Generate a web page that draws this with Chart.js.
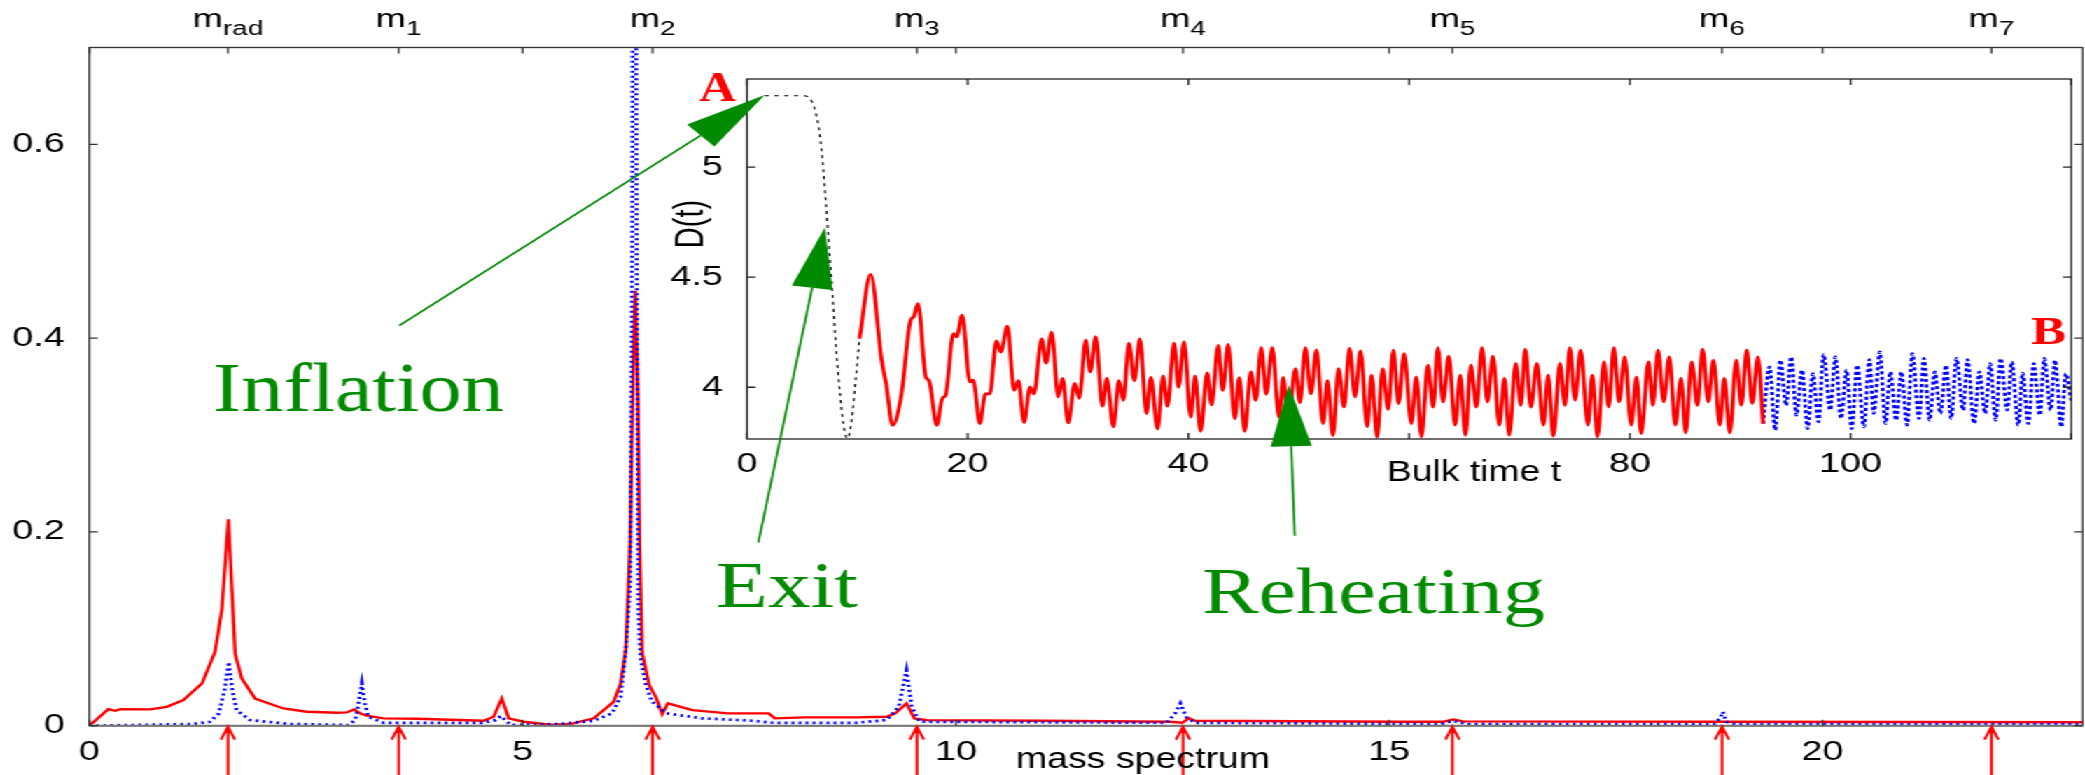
<!DOCTYPE html>
<html>
<head>
<meta charset="utf-8">
<script src="https://cdn.jsdelivr.net/npm/chart.js@4.4.1/dist/chart.umd.min.js"></script>
<style>
  html, body { margin: 0; padding: 0; background: #ffffff; overflow: hidden; }
  /* la figura original esta estirada a lo ancho, la estiramos igual */
  #lienzo { position: relative; width: 1489px; height: 775px; transform: scaleX(1.40027); transform-origin: 0 0; }
  #lienzo canvas { position: absolute; left: 0; top: 0; }
</style>
</head>
<body>
<div id="lienzo">
  <canvas id="principal" width="1489" height="775"></canvas>
  <canvas id="recuadro" width="1489" height="775"></canvas>
</div>
<script>
// ---- datos del espectro de masas (grafica grande) ----
const rojoMasa = [0, 0.22, 0.30, 0.36, 0.70, 0.894, 1.086, 1.30, 1.45, 1.53,
  1.605, 1.683, 1.76, 1.913, 2.24, 2.51, 2.857, 2.97, 3.057, 3.126,
  3.203, 3.395, 3.78, 4.55, 4.665, 4.76, 4.84, 5.01, 5.32, 5.55,
  5.82, 6.05, 6.13, 6.19, 6.24, 6.28, 6.30, 6.33, 6.35, 6.38,
  6.46, 6.54, 6.61, 6.675, 6.96, 7.37, 7.84, 7.91, 8.25, 8.84,
  9.20, 9.30, 9.43, 9.52, 9.67, 11.02, 12.47, 12.61, 12.69, 12.76,
  15.13, 15.62, 15.74, 15.85, 18.84, 23];
const rojoValor = [0, 0.017, 0.0154, 0.017, 0.0168, 0.0195, 0.0264, 0.0435, 0.076, 0.120,
  0.213, 0.074, 0.0486, 0.028, 0.0178, 0.0144, 0.0133, 0.0137, 0.0168, 0.0127,
  0.0103, 0.0076, 0.0072, 0.0051, 0.0092, 0.028, 0.0076, 0.0041, 0.001, 0.0017,
  0.0076, 0.0246, 0.0435, 0.078, 0.187, 0.389, 0.449, 0.339, 0.187, 0.075,
  0.042, 0.029, 0.012, 0.023, 0.016, 0.0127, 0.0127, 0.0076, 0.0086, 0.0086,
  0.0092, 0.0127, 0.023, 0.0076, 0.0058, 0.0051, 0.0041, 0.003, 0.0076, 0.0051,
  0.0041, 0.004, 0.0065, 0.0045, 0.004, 0.0035];

const azulMasa = [0, 1.186, 1.39, 1.495, 1.56, 1.61, 1.65, 1.70, 1.855, 2.32,
  2.99, 3.07, 3.12, 3.145, 3.18, 3.22, 3.40, 4.535, 4.69, 4.75,
  4.82, 4.87, 5.41, 5.82, 6.03, 6.13, 6.19, 6.24, 6.265, 6.29,
  6.315, 6.335, 6.36, 6.42, 6.49, 6.66, 7.07, 7.66, 7.90, 8.84,
  9.20, 9.34, 9.43, 9.49, 9.58, 12.43, 12.53, 12.59, 12.66, 12.76,
  15.60, 15.74, 15.90, 18.75, 18.82, 18.85, 18.89, 19.0, 23];
const azulValor = [0, 0.0017, 0.004, 0.0127, 0.0366, 0.0657, 0.0366, 0.016, 0.0058, 0.0017,
  0.0007, 0.0058, 0.0297, 0.0435, 0.023, 0.0092, 0.0029, 0.003, 0.0058, 0.010,
  0.004, 0.0007, 0.0017, 0.0051, 0.0127, 0.0297, 0.078, 0.146, 0.5, 1.6,
  0.5, 0.12, 0.07, 0.043, 0.025, 0.0127, 0.0076, 0.0051, 0.003, 0.003,
  0.0058, 0.0195, 0.057, 0.0195, 0.0041, 0.003, 0.0127, 0.023, 0.0086, 0.003,
  0.0017, 0.005, 0.0017, 0.0017, 0.008, 0.0144, 0.004, 0.0017, 0.0017];

// posiciones de las masas marcadas arriba y con flechas abajo
const masasM = [1.6, 3.57, 6.5, 9.55, 12.62, 15.73, 18.84, 21.95];
const nombresM = ['rad', '1', '2', '3', '4', '5', '6', '7'];
const ticksMasa = [0, 5, 10, 15, 20];
const ticksValor = [0, 0.2, 0.4, 0.6];

// ---- datos de D(t) (recuadro) ----
const puntoT = [1.6, 5.05, 5.95, 6.49, 6.85, 7.15, 7.44, 7.74, 8.04, 8.43, 8.73, 9.09, 9.48, 9.84, 10.2];
const puntoD = [5.324, 5.324, 5.29, 5.183, 5.03, 4.835, 4.638, 4.426, 4.2, 3.97, 3.835, 3.767, 3.85, 4.03, 4.221];

const rojoT = [10.2, 11.2, 12.2, 12.6, 13.2, 14.0, 14.8, 15.1, 15.5, 16.2,
  16.5, 17.2, 17.7, 18.0, 18.7, 19.0, 19.5, 20.2, 20.5, 21.1,
  21.6, 22.0, 22.6, 23.0, 23.6, 24.2, 24.6, 25.1, 25.65, 26.0,
  26.7, 27.1, 27.6, 28.2, 28.6, 29.1, 29.7, 30.1, 30.7, 31.1,
  31.6, 32.2, 32.6, 33.2, 33.7, 34.1, 34.6, 35.1, 35.6, 36.2,
  36.6, 37.2, 37.7, 38.1, 38.7, 39.1, 39.6, 40.2, 40.6, 41.1,
  41.7, 42.1, 42.7, 43.1, 43.6, 44.2, 44.6, 45.1, 45.65, 46.1,
  46.6, 47.05, 47.6, 48.2, 48.6, 49.0, 49.7, 50.1, 50.6, 51.1,
  51.6, 52.2, 52.6, 53.1, 53.6, 54.1, 54.6, 55.1, 55.6, 56.2,
  56.6, 57.1, 57.6, 58.1, 58.57, 59.04, 59.55, 60.2, 60.65, 61.12,
  61.7, 62.18, 62.6, 63.08, 63.59, 64.17, 64.64, 65.1, 65.6, 66.1,
  66.6, 67.1, 67.6, 68.17, 68.64, 69.07, 69.66, 70.13, 70.52, 71.03,
  71.58, 72.17, 72.6, 73.07, 73.66, 74.13, 74.56, 75.03, 75.54, 76.2,
  76.6, 77.07, 77.65, 78.08, 78.55, 79.02, 79.53, 80.12, 80.6, 81.02,
  81.69, 82.08, 82.55, 83.06, 83.57, 84.12, 84.63, 85.06, 85.6, 86.12,
  86.59, 87.1, 87.57, 88.15, 88.55, 89.06, 89.64, 90.1, 90.6, 91.09,
  91.6, 92.07];
const rojoD = [4.221, 4.512, 4.123, 4.017, 3.827, 3.97, 4.30, 4.32, 4.38, 4.047,
  4.03, 3.827, 3.95, 3.964, 4.244, 4.229, 4.327, 4.024, 4.032, 3.835,
  3.97, 3.97, 4.21, 4.16, 4.277, 3.986, 4.03, 3.84, 4.0, 3.97,
  4.22, 4.11, 4.25, 3.956, 4.04, 3.838, 4.018, 3.95, 4.214, 4.07,
  4.23, 3.914, 4.04, 3.82, 4.03, 3.94, 4.20, 4.03, 4.22, 3.88,
  4.045, 3.81, 4.05, 3.914, 4.20, 4.0, 4.206, 3.865, 4.05, 3.80,
  4.065, 3.92, 4.19, 3.986, 4.195, 3.857, 4.044, 3.80, 4.07, 3.94,
  4.18, 3.968, 4.18, 3.865, 4.045, 3.827, 4.085, 3.93, 4.18, 3.97,
  4.17, 3.835, 4.03, 3.78, 4.085, 3.91, 4.176, 3.956, 4.165, 3.82,
  4.055, 3.774, 4.085, 3.90, 4.168, 3.926, 4.153, 3.835, 4.047, 3.775,
  4.10, 3.91, 4.18, 3.934, 4.141, 3.828, 4.055, 3.782, 4.10, 3.91,
  4.18, 3.934, 4.141, 3.828, 4.04, 3.782, 4.108, 3.918, 4.173, 3.91,
  4.108, 3.828, 4.055, 3.778, 4.108, 3.918, 4.18, 3.941, 4.168, 3.828,
  4.055, 3.775, 4.115, 3.91, 4.18, 3.934, 4.138, 3.828, 4.047, 3.79,
  4.115, 3.918, 4.168, 3.934, 4.138, 3.828, 4.04, 3.793, 4.115, 3.918,
  4.173, 3.934, 4.123, 3.828, 4.04, 3.793, 4.123, 3.918, 4.168, 3.926,
  4.138, 3.835];

const azulT = [92.07, 92.66, 93.17, 93.64, 94.15, 94.62, 95.09, 95.6, 96.11, 96.58,
  97.09, 97.56, 98.15, 98.62, 99.13, 99.64, 100.1, 100.6, 101.2, 101.7,
  102.1, 102.65, 103.16, 103.6, 104.14, 104.6, 105.12, 105.6, 106.2, 106.65,
  107.16, 107.63, 108.14, 108.65, 109.12, 109.6, 110.2, 110.6, 111.2, 111.67,
  112.2, 112.65, 113.15, 113.6, 114.2, 114.6, 115.2, 115.6, 116.1, 116.6,
  117.15, 117.55, 118.13, 118.52, 119.1, 119.5, 120];
const azulD = [3.835, 4.093, 3.805, 4.123, 3.918, 4.138, 3.873, 4.078, 3.812, 4.062,
  3.843, 4.149, 3.896, 4.138, 3.858, 4.078, 3.812, 4.1, 3.82, 4.126,
  3.881, 4.161, 3.835, 4.07, 3.85, 4.07, 3.828, 4.153, 3.858, 4.131,
  3.85, 4.07, 3.881, 4.1, 3.858, 4.131, 3.896, 4.126, 3.835, 4.07,
  3.881, 4.108, 3.85, 4.131, 3.896, 4.115, 3.828, 4.065, 3.835, 4.108,
  3.873, 4.131, 3.896, 4.123, 3.82, 4.062, 3.94];

const ticksTiempo = [0, 20, 40, 60, 80, 100, 120];
const etiquetasTiempo = ['0', '20', '40', '', '80', '100', '']; // el 60 queda tapado por el rotulo
const ticksD = [4, 4.5, 5];

// flechas verdes: cola en la grafica grande (masa, valor), punta en el recuadro (t, D)
const flechaCola = [[3.576, 0.413], [7.72, 0.189], [13.91, 0.196]];
const flechaPunta = [[1.61, 5.327], [7.06, 4.726], [49.1, 4.009]];

// ---- utilidades ----
const ESC = 2085 / 1489; // estiramiento horizontal
const cx = v => v / ESC;   // pixel de la imagen -> pixel del lienzo
const VERDE = '#008a00';

Chart.defaults.font.family = "'Liberation Sans', Arial, sans-serif";
Chart.defaults.font.size = 27;
Chart.defaults.color = '#000';

function puntos(xs, ys) {
    return xs.map((v, i) => ({ x: v, y: ys[i] }));
}

// texto ajustado a un ancho dado (la figura tiene letras estiradas)
function textoAjustado(ctx, texto, x, base, fuente, ancho, color) {
    ctx.save();
    ctx.font = fuente;
    const w = ctx.measureText(texto).width;
    ctx.translate(x, base);
    ctx.scale(ancho / w, 1);
    ctx.fillStyle = color;
    ctx.textAlign = 'left';
    ctx.textBaseline = 'alphabetic';
    ctx.fillText(texto, 0, 0);
    ctx.restore();
}

// marcas hacia adentro en ejes horizontales
function marcasX(ctx, escala, valores, yArriba, yAbajo, largo, arriba, abajo) {
    ctx.beginPath();
    valores.forEach(v => {
        const px = escala.getPixelForValue(v);
        if (abajo) { ctx.moveTo(px, yAbajo); ctx.lineTo(px, yAbajo - largo); }
        if (arriba) { ctx.moveTo(px, yArriba); ctx.lineTo(px, yArriba + largo); }
    });
    ctx.stroke();
}

// marcas hacia adentro en ejes verticales
function marcasY(ctx, escala, valores, xIzq, xDer, largo) {
    ctx.beginPath();
    valores.forEach(v => {
        const py = escala.getPixelForValue(v);
        ctx.moveTo(xIzq, py); ctx.lineTo(xIzq + largo, py);
        ctx.moveTo(xDer, py); ctx.lineTo(xDer - largo, py);
    });
    ctx.stroke();
}

// flecha con punta rellena
function flecha(ctx, x0, y0, x1, y1, largo, medio) {
    const ang = Math.atan2(y1 - y0, x1 - x0);
    const bx = x1 - largo * Math.cos(ang);
    const by = y1 - largo * Math.sin(ang);
    ctx.strokeStyle = VERDE;
    ctx.fillStyle = VERDE;
    ctx.lineWidth = 1.6;
    ctx.beginPath();
    ctx.moveTo(x0, y0);
    ctx.lineTo(bx, by);
    ctx.stroke();
    ctx.beginPath();
    ctx.moveTo(x1, y1);
    ctx.lineTo(bx + medio * Math.sin(ang), by - medio * Math.cos(ang));
    ctx.lineTo(bx - medio * Math.sin(ang), by + medio * Math.cos(ang));
    ctx.closePath();
    ctx.fill();
}

// ---- plugin de la grafica grande: marco, marcas, etiquetas m y flechas rojas ----
const marcoPrincipal = {
    id: 'marcoPrincipal',
    afterDraw(chart) {
        const { ctx, chartArea: a, scales: { x, y } } = chart;
        ctx.save();
        ctx.strokeStyle = '#333';
        ctx.lineWidth = 1.3;
        ctx.strokeRect(a.left, a.top, a.right - a.left, a.bottom - a.top);
        ctx.strokeStyle = '#777';
        ctx.lineWidth = 2;
        ctx.beginPath();
        ctx.moveTo(a.left, a.bottom);
        ctx.lineTo(a.right, a.bottom);
        ctx.stroke();

        ctx.strokeStyle = '#333';
        ctx.lineWidth = 1.3;
        marcasX(ctx, x, ticksMasa, a.top, a.bottom, 6, true, true);
        marcasX(ctx, x, masasM, a.top, a.bottom, 6, true, false);
        marcasY(ctx, y, ticksValor, a.left, a.right, 6);

        // etiquetas m con subindice
        ctx.fillStyle = '#000';
        ctx.textBaseline = 'alphabetic';
        ctx.textAlign = 'left';
        masasM.forEach((m, i) => {
            const px = x.getPixelForValue(m);
            ctx.font = "26px 'Liberation Sans', Arial, sans-serif";
            const wm = ctx.measureText('m').width;
            ctx.font = "20px 'Liberation Sans', Arial, sans-serif";
            const ws = ctx.measureText(nombresM[i]).width;
            const x0 = px - (wm + ws) / 2;
            ctx.font = "26px 'Liberation Sans', Arial, sans-serif";
            ctx.fillText('m', x0, 27);
            ctx.font = "20px 'Liberation Sans', Arial, sans-serif";
            ctx.fillText(nombresM[i], x0 + wm, 34.5);
        });

        // flechas rojas bajo el eje
        ctx.strokeStyle = '#ff0000';
        ctx.lineWidth = 2;
        ctx.beginPath();
        masasM.forEach(m => {
            const px = x.getPixelForValue(m);
            ctx.moveTo(px, a.bottom + 1);
            ctx.lineTo(px, 780);
            ctx.moveTo(px - 5, a.bottom + 14);
            ctx.lineTo(px, a.bottom + 1);
            ctx.lineTo(px + 5, a.bottom + 14);
        });
        ctx.stroke();

        textoAjustado(ctx, 'mass spectrum', cx(1016), 768,
            "30px 'Liberation Sans', Arial, sans-serif", cx(254), '#000');
        ctx.restore();
    }
};

const graficaPrincipal = new Chart(document.getElementById('principal'), {
    type: 'line',
    data: {
        datasets: [
            { data: puntos(azulMasa, azulValor), borderColor: '#0000ff', borderWidth: 2.7,
              borderDash: [2, 3], pointRadius: 0, tension: 0 },
            { data: puntos(rojoMasa, rojoValor), borderColor: '#ff0000', borderWidth: 2.4,
              pointRadius: 0, tension: 0 }
        ]
    },
    options: {
        responsive: false,
        animation: false,
        devicePixelRatio: 1,
        layout: { padding: { left: 0, top: 47.5, right: 1489 - cx(2082.5), bottom: 0 } },
        plugins: { legend: { display: false }, tooltip: { enabled: false } },
        scales: {
            x: {
                type: 'linear', min: 0, max: 23,
                grid: { display: false, drawTicks: false },
                border: { display: false },
                ticks: { padding: 11 },
                afterBuildTicks: s => { s.ticks = ticksMasa.map(v => ({ value: v })); },
                afterFit: s => { s.height = 775 - 725.7; }
            },
            y: {
                min: 0, max: 0.7,
                grid: { display: false, drawTicks: false },
                border: { display: false },
                ticks: { padding: cx(89.3) - cx(64.7) },
                afterBuildTicks: s => { s.ticks = ticksValor.map(v => ({ value: v })); },
                afterFit: s => { s.width = cx(89.3); }
            }
        }
    },
    plugins: [marcoPrincipal]
});

// ---- plugin del recuadro: fondo, marco, rotulos, flechas y textos verdes ----
const marcoRecuadro = {
    id: 'marcoRecuadro',
    beforeDraw(chart) {
        const { ctx, chartArea: a } = chart;
        ctx.save();
        ctx.fillStyle = '#ffffff';
        ctx.fillRect(a.left, a.top, a.right - a.left, a.bottom - a.top);
        ctx.restore();
    },
    afterDraw(chart) {
        const { ctx, chartArea: a, scales: { x, y } } = chart;
        ctx.save();
        ctx.strokeStyle = '#222';
        ctx.lineWidth = 1.3;
        ctx.strokeRect(a.left, a.top, a.right - a.left, a.bottom - a.top);
        marcasX(ctx, x, ticksTiempo, a.top, a.bottom, 6, true, true);
        marcasY(ctx, y, ticksD, a.left, a.right, 6);

        // rotulos de los ejes
        textoAjustado(ctx, 'Bulk time t', cx(1387), 481,
            "29px 'Liberation Sans', Arial, sans-serif", cx(174), '#000');
        ctx.save();
        ctx.translate(cx(692), 224);
        ctx.rotate(-Math.PI / 2);
        ctx.font = "29px 'Liberation Sans', Arial, sans-serif";
        ctx.fillStyle = '#000';
        ctx.textAlign = 'center';
        ctx.textBaseline = 'middle';
        ctx.fillText('D(t)', 0, 0);
        ctx.restore();

        textoAjustado(ctx, 'A', cx(699), 100.7, "bold 43px 'Liberation Serif', serif", cx(37), '#ff0000');
        textoAjustado(ctx, 'B', cx(2031), 344, "bold 40px 'Liberation Serif', serif", cx(35), '#ff0000');

        // flechas verdes desde la grafica grande hasta el recuadro
        const ex = graficaPrincipal.scales.x, ey = graficaPrincipal.scales.y;
        flechaCola.forEach((c, i) => {
            const p = flechaPunta[i];
            flecha(ctx, ex.getPixelForValue(c[0]), ey.getPixelForValue(c[1]),
                x.getPixelForValue(p[0]), y.getPixelForValue(p[1]), 61, 14.7);
        });

        textoAjustado(ctx, 'Inflation', cx(213), 411, "69px 'Liberation Serif', serif", cx(291), VERDE);
        textoAjustado(ctx, 'Exit', cx(716), 606.7, "66px 'Liberation Serif', serif", cx(142), VERDE);
        textoAjustado(ctx, 'Reheating', cx(1202), 613, "65px 'Liberation Serif', serif", cx(343), VERDE);
        ctx.restore();
    }
};

const anchoEjeD = 60;
const altoEjeT = 45;

new Chart(document.getElementById('recuadro'), {
    type: 'line',
    data: {
        datasets: [
            { data: puntos(puntoT, puntoD), borderColor: '#000000', borderWidth: 1.2,
              borderDash: [3, 4], pointRadius: 0, cubicInterpolationMode: 'monotone' },
            { data: puntos(rojoT, rojoD), borderColor: '#ff0000', borderWidth: 2.8,
              pointRadius: 0, cubicInterpolationMode: 'monotone' },
            { data: puntos(azulT, azulD), borderColor: '#0000ff', borderWidth: 2.6,
              borderDash: [3, 2.5], pointRadius: 0, cubicInterpolationMode: 'monotone' }
        ]
    },
    options: {
        responsive: false,
        animation: false,
        devicePixelRatio: 1,
        layout: {
            padding: {
                left: cx(747) - anchoEjeD,
                top: 79,
                right: 1489 - cx(2082.5),
                bottom: 775 - 439 - altoEjeT
            }
        },
        plugins: { legend: { display: false }, tooltip: { enabled: false } },
        scales: {
            x: {
                type: 'linear', min: 0, max: 120,
                grid: { display: false, drawTicks: false },
                border: { display: false },
                ticks: { padding: 9.8, callback: (v, i) => etiquetasTiempo[i] },
                afterBuildTicks: s => { s.ticks = ticksTiempo.map(v => ({ value: v })); },
                afterFit: s => { s.height = altoEjeT; }
            },
            y: {
                min: 3.765, max: 5.4,
                grid: { display: false, drawTicks: false },
                border: { display: false },
                ticks: { padding: cx(747) - cx(723), callback: v => String(v) },
                afterBuildTicks: s => { s.ticks = ticksD.map(v => ({ value: v })); },
                afterFit: s => { s.width = anchoEjeD; }
            }
        }
    },
    plugins: [marcoRecuadro]
});
</script>
</body>
</html>
